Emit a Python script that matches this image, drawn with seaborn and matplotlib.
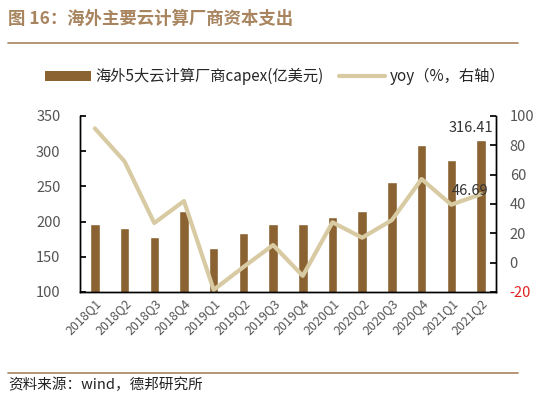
import numpy as np
import pandas as pd
import matplotlib.pyplot as plt
import seaborn as sns
from matplotlib.lines import Line2D
from matplotlib.patches import Patch

sns.set_theme(style="white")
plt.rcParams["font.family"] = ["Noto Sans CJK SC", "DejaVu Sans"]
plt.rcParams["axes.unicode_minus"] = False

# dati
quarters = ["2018Q1", "2018Q2", "2018Q3", "2018Q4", "2019Q1", "2019Q2", "2019Q3",
            "2019Q4", "2020Q1", "2020Q2", "2020Q3", "2020Q4", "2021Q1", "2021Q2"]
capex = [197, 191, 178, 215, 162, 184, 197, 197, 206, 215, 256, 309, 287, 316.41]
yoy = [91.5, 69, 27, 42, -18.5, -3, 12, -9, 27.5, 17, 29, 57, 39.5, 46.69]
left_ticks = [100, 150, 200, 250, 300, 350]
right_ticks = [-20, 0, 20, 40, 60, 80, 100]

bar_color = "#8B6332"
line_color = "#D8CAA2"
brown_title = "#A8845F"
gray = "#555555"

df = pd.DataFrame({"quarter": quarters, "capex": capex, "yoy": yoy})
df["pos"] = np.arange(len(df))

fig = plt.figure(figsize=(5.5, 3.93), dpi=100)
ax = fig.add_axes([0.1455, 0.257, 0.756, 0.448])

sns.barplot(data=df, x="pos", y="capex", color=bar_color, width=0.32,
            saturation=1, ax=ax, native_scale=True)
ax.set_ylim(100, 350)
ax.set_xlim(-0.5, len(df) - 0.5)
ax.set_yticks(left_ticks)
ax.set_xticks(df["pos"])
ax.set_xticklabels(quarters, rotation=45, ha="right", rotation_mode="anchor",
                   fontsize=9, color=gray)
ax.set_xticks(np.arange(len(df) + 1) - 0.5, minor=True)
ax.tick_params(axis="x", which="major", length=0, pad=3)
ax.tick_params(axis="x", which="minor", direction="in", length=4, color="black")
ax.tick_params(axis="y", direction="in", length=4, color="black", labelsize=10.5,
               labelcolor=gray, left=True, pad=14)
ax.set_xlabel("")
ax.set_ylabel("")

ax2 = ax.twinx()
sns.lineplot(data=df, x="pos", y="yoy", color=line_color, linewidth=3, ax=ax2)
ax2.set_ylim(-20, 100)
ax2.set_yticks(right_ticks)
ax2.tick_params(axis="y", direction="in", length=4, color="black", labelsize=10.5,
                labelcolor=gray, right=True, pad=10)
ax2.get_yticklabels()[0].set_color("#E02020")
ax2.set_ylabel("")
ax2.set_xlabel("")

for a in (ax, ax2):
    a.spines["top"].set_visible(False)
    for s in ("left", "right", "bottom"):
        a.spines[s].set_color("black")
        a.spines[s].set_linewidth(1)
    a.grid(False)

# etichette dei valori
ax.text(df["pos"].iloc[-1] + 0.4, df["capex"].iloc[-1] + 7, f"{capex[-1]:.2f}",
        ha="right", va="bottom", fontsize=10.5, color="#333333")
ax2.text(df["pos"].iloc[-1] + 0.25, df["yoy"].iloc[-1] + 2, f"{yoy[-1]:.2f}",
         ha="right", va="center", fontsize=10.5, color="#333333")

# legenda
handles = [Patch(facecolor=bar_color, edgecolor="none"),
           Line2D([0], [0], color=line_color, linewidth=3)]
labels = ["海外5大云计算厂商capex(亿美元)", "yoy（%，右轴）"]
fig.legend(handles, labels, loc="center", bbox_to_anchor=(0.5, 0.805), ncol=2,
           frameon=False, fontsize=11, handlelength=3.0, handleheight=0.6,
           columnspacing=1.0, handletextpad=0.3)

# titolo e fonte
fig.text(0.015, 0.953, "图 16：海外主要云计算厂商资本支出", fontsize=12.5,
         fontweight="bold", color=brown_title, va="center")
fig.add_artist(Line2D([0.015, 0.942], [0.89, 0.89], color=brown_title, linewidth=1.2))
fig.add_artist(Line2D([0.015, 0.942], [0.05, 0.05], color=brown_title, linewidth=1.2))
fig.text(0.015, 0.02, "资料来源：wind，德邦研究所", fontsize=10.5, color="#222222",
         va="center")

fig.savefig("out.png", dpi=100)
